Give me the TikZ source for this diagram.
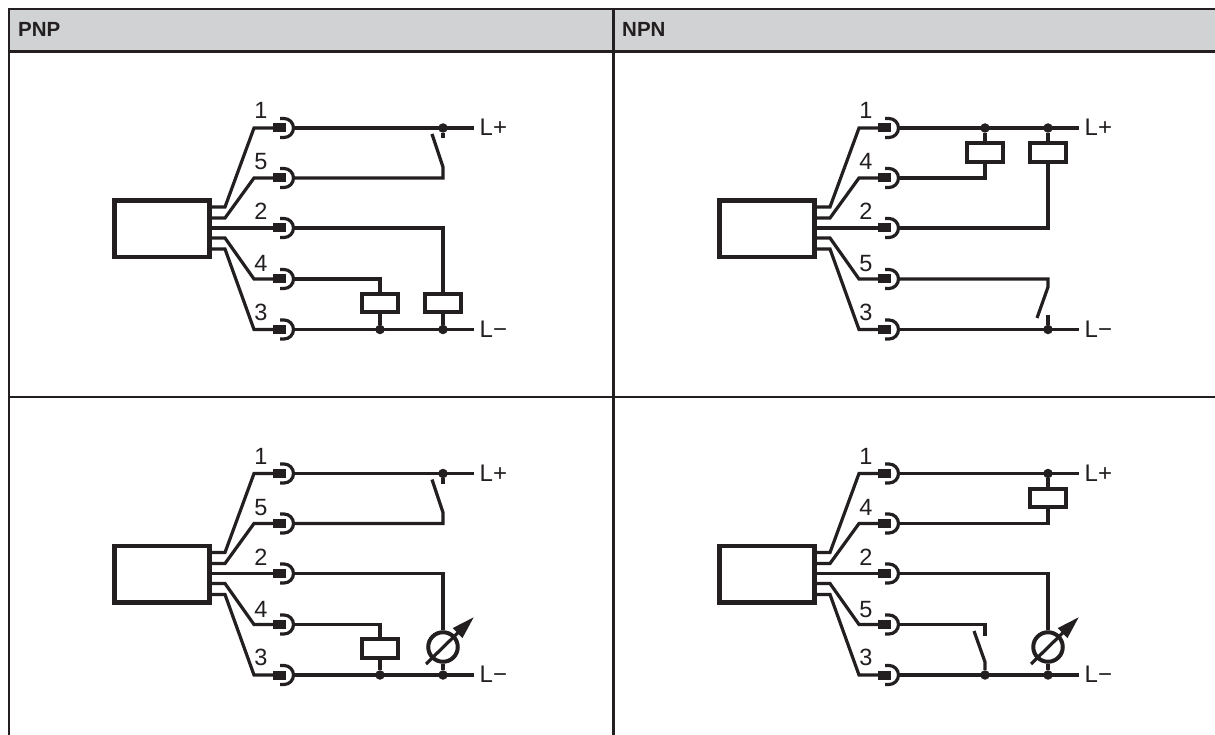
\documentclass[tikz,border=0pt]{standalone}
\usepackage{fontspec}
\setmainfont{Liberation Sans}
\usepackage{xcolor}
\usetikzlibrary{calc,arrows.meta}
\definecolor{ink}{HTML}{231F20}
\definecolor{headgray}{HTML}{D1D2D3}
\tikzset{
    wire/.style={draw=ink, line width=3.2pt},
    gridline/.style={draw=ink, line width=2.2pt},
    sensorbox/.style={draw=ink, line width=4.4pt, rectangle, minimum width=95pt, minimum height=56.5pt, inner sep=0pt},
    coil/.style={draw=ink, fill=white, line width=4.4pt, rectangle, minimum width=36.5pt, minimum height=18.5pt, inner sep=0pt},
    pinplug/.style={fill=ink, rectangle, minimum width=13pt, minimum height=9pt, inner sep=0pt, anchor=west},
    junction/.style={fill=ink, circle, minimum size=9.5pt, inner sep=0pt},
    gauge/.style={draw=ink, line width=4pt, circle, minimum size=29.5pt, inner sep=0pt},
    pinlabel/.style={text=ink, font=\fontsize{23.5}{25}\selectfont, anchor=base, inner sep=0pt},
    railtext/.style={text=ink, font=\fontsize{24}{26}\selectfont, anchor=base west, inner xsep=5.5pt, inner ysep=0pt},
    headtext/.style={text=ink, font=\bfseries\fontsize{20.5}{22}\selectfont, anchor=base west, inner sep=0pt}
}
\newcommand{\pinblock}[3]{
    \node[sensorbox] (#1box) at (162,228.7) {};
    \foreach \n/\ya/\yb/\yt/\lab in {1/207/128/119/1, 2/218/178/170/#2, 3/228/228/220/2, 4/238/279/272/#3, 5/249/329.5/320/3} {
        \node[pinplug] (#1pin\n) at (273,\yb) {};
        \coordinate (#1r\n) at (293.5,\yb);
        \draw[wire] (#1box.east |- 0,\ya) -- (225,\ya) -- (254,\yb) -- (#1pin\n.west);
        \draw[wire] (280,\yb-9.5) -- (284,\yb-9.5) arc[start angle=90, end angle=-90, radius=9.5pt] -- (280,\yb+9.5);
        \node[pinlabel] (#1lab\n) at (261,\yt) {\lab};
    }
    \node[railtext] (#1plus) at (474,136) {L+};
    \node[railtext] (#1minus) at (474,337) {L−};
}
\newcommand{\gaugedial}[1]{
    \draw[wire, -{Triangle[length=23pt,width=13pt]}] ($(#1)+(-17,17)$) -- ($(#1)+(31,-30)$);
}
\begin{document}
\begin{tikzpicture}[x=1pt,y=-1pt]
    \useasboundingbox (0,0) rectangle (1215,735);
    \fill[white] (0,0) rectangle (1215,735);

    \fill[headgray] (9,9) rectangle (1215,51);
    \draw[gridline] (1215,9) -- (9,9) -- (9,735);
    \draw[gridline] (9,51.5) -- (1215,51.5);
    \draw[gridline] (9,397) -- (1215,397);
    \draw[gridline] (613.5,9) -- (613.5,735);
    \node[headtext] (pnp) at (18,36.5) {PNP};
    \node[headtext] (npn) at (622,36.5) {NPN};

    % PNP, relays
    \begin{scope}
        \pinblock{a}{5}{4}
        \node[junction] (aj1) at (443,128) {};
        \node[junction] (aj2) at (380,329.5) {};
        \node[junction] (aj3) at (443,329.5) {};
        \node[coil] (ak1) at (380,303) {};
        \node[coil] (ak2) at (443,303) {};
        \draw[wire] (ar1) -- (aplus.west |- ar1);
        \draw[wire] (ar5) -- (aminus.west |- ar5);
        \draw[wire] (aj1) -- ++(0,10);
        \draw[wire] (ar2) -| ($(aj1)+(0,39)$) -- ($(aj1)+(-11,6)$);
        \draw[wire] (ar3) -| (ak2.north);
        \draw[wire] (ar4) -| (ak1.north);
        \draw[wire] (ak1) -- (aj2);
        \draw[wire] (ak2) -- (aj3);
    \end{scope}

    % NPN, relays
    \begin{scope}[shift={(605,0)}]
        \pinblock{b}{4}{5}
        \node[junction] (bj1) at (380,128) {};
        \node[junction] (bj2) at (443,128) {};
        \node[junction] (bj3) at (443,329.5) {};
        \node[coil] (bk1) at (380,152.5) {};
        \node[coil] (bk2) at (443,152.5) {};
        \draw[wire] (br1) -- (bplus.west |- br1);
        \draw[wire] (br5) -- (bminus.west |- br5);
        \draw[wire] (bj1) -- (bk1);
        \draw[wire] (bj2) -- (bk2);
        \draw[wire] (br2) -| (bk1.south);
        \draw[wire] (br3) -| (bk2.south);
        \draw[wire] (br4) -| ($(bj3)+(0,-42.5)$) -- ($(bj3)+(-11,-11.5)$);
        \draw[wire] (bj3) -- ++(0,-15);
    \end{scope}

    % PNP, analogue
    \begin{scope}[shift={(0,345.5)}]
        \pinblock{c}{5}{4}
        \node[junction] (cj1) at (443,128) {};
        \node[junction] (cj2) at (380,329.5) {};
        \node[junction] (cj3) at (443,329.5) {};
        \node[coil] (ck1) at (380,303) {};
        \node[gauge] (cg1) at (443,301.5) {};
        \draw[wire] (cr1) -- (cplus.west |- cr1);
        \draw[wire] (cr5) -- (cminus.west |- cr5);
        \draw[wire] (cj1) -- ++(0,10);
        \draw[wire] (cr2) -| ($(cj1)+(0,39)$) -- ($(cj1)+(-11,6)$);
        \draw[wire] (cr3) -| (cg1.north);
        \draw[wire] (cr4) -| (ck1.north);
        \draw[wire] (ck1) -- (cj2);
        \draw[wire] (cg1) -- (cj3);
        \gaugedial{cg1}
    \end{scope}

    % NPN, analogue
    \begin{scope}[shift={(605,345.5)}]
        \pinblock{d}{4}{5}
        \node[junction] (dj1) at (443,128) {};
        \node[junction] (dj2) at (380,329.5) {};
        \node[junction] (dj3) at (443,329.5) {};
        \node[coil] (dk1) at (443,152.5) {};
        \node[gauge] (dg1) at (443,301.5) {};
        \draw[wire] (dr1) -- (dplus.west |- dr1);
        \draw[wire] (dr5) -- (dminus.west |- dr5);
        \draw[wire] (dj1) -- (dk1);
        \draw[wire] (dr2) -| (dk1.south);
        \draw[wire] (dr3) -| (dg1.north);
        \draw[wire] (dr4) -| ($(dj2)+(0,-39)$);
        \draw[wire] (dj2) -- ++(0,-13) -- ++(-11,-31);
        \draw[wire] (dg1) -- (dj3);
        \gaugedial{dg1}
    \end{scope}
\end{tikzpicture}
\end{document}
